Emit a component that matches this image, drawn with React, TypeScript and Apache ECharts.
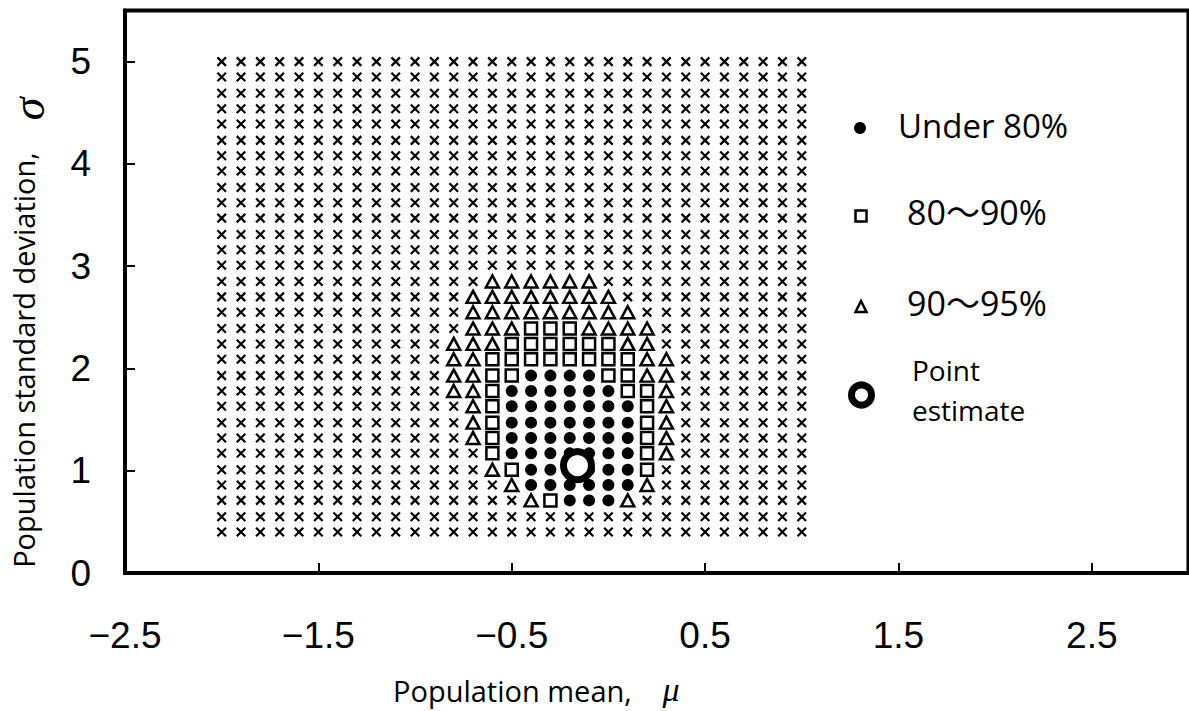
import React, { useEffect, useRef } from "react";
import * as echarts from "echarts";

// Grid of population means (columns) and standard deviations (rows)
const MU = [
  -2.0, -1.9, -1.8, -1.7, -1.6, -1.5, -1.4, -1.3, -1.2, -1.1, -1.0,
  -0.9, -0.8, -0.7, -0.6, -0.5, -0.4, -0.3, -0.2, -0.1, 0.0,
  0.1, 0.2, 0.3, 0.4, 0.5, 0.6, 0.7, 0.8, 0.9, 1.0,
];
const SIGMA = [
  0.4, 0.55, 0.71, 0.86, 1.01, 1.17, 1.32, 1.47, 1.63, 1.78, 1.93,
  2.09, 2.24, 2.39, 2.55, 2.7, 2.85, 3.01, 3.16, 3.31, 3.47, 3.62,
  3.77, 3.93, 4.08, 4.23, 4.39, 4.54, 4.69, 4.85, 5.0,
];

// One string per SIGMA row (bottom to top), one char per MU column.
// x = outside, t = 90~95%, s = 80~90%, o = under 80%
const CLASS_ROWS = [
  "xxxxxxxxxxxx xxxx xxxx xxxx xxxxxxx", // 0.40
  "xxxxxxxxxxxx xxxx xxxx xxxx xxxxxxx", // 0.55
  "xxxxxxxxxxxx xxxx tsoo otxx xxxxxxx", // 0.71
  "xxxxxxxxxxxx xxxt oooo ootx xxxxxxx", // 0.86
  "xxxxxxxxxxxx xxts oooo oosx xxxxxxx", // 1.01
  "xxxxxxxxxxxx xxso oooo oost xxxxxxx", // 1.17
  "xxxxxxxxxxxx xtso oooo oost xxxxxxx", // 1.32
  "xxxxxxxxxxxx xtso oooo oost xxxxxxx", // 1.47
  "xxxxxxxxxxxx xtso oooo oost xxxxxxx", // 1.63
  "xxxxxxxxxxxx ttso oooo osst xxxxxxx", // 1.78
  "xxxxxxxxxxxx ttss oooo sstt xxxxxxx", // 1.93
  "xxxxxxxxxxxx ttss ssss sstt xxxxxxx", // 2.09
  "xxxxxxxxxxxx ttts ssss sttx xxxxxxx", // 2.24
  "xxxxxxxxxxxx xttt ssst tttx xxxxxxx", // 2.39
  "xxxxxxxxxxxx xttt tttt ttxx xxxxxxx", // 2.55
  "xxxxxxxxxxxx xttt tttt txxx xxxxxxx", // 2.70
  "xxxxxxxxxxxx xxtt tttt xxxx xxxxxxx", // 2.85
  "xxxxxxxxxxxx xxxx xxxx xxxx xxxxxxx", // 3.01
  "xxxxxxxxxxxx xxxx xxxx xxxx xxxxxxx", // 3.16
  "xxxxxxxxxxxx xxxx xxxx xxxx xxxxxxx", // 3.31
  "xxxxxxxxxxxx xxxx xxxx xxxx xxxxxxx", // 3.47
  "xxxxxxxxxxxx xxxx xxxx xxxx xxxxxxx", // 3.62
  "xxxxxxxxxxxx xxxx xxxx xxxx xxxxxxx", // 3.77
  "xxxxxxxxxxxx xxxx xxxx xxxx xxxxxxx", // 3.93
  "xxxxxxxxxxxx xxxx xxxx xxxx xxxxxxx", // 4.08
  "xxxxxxxxxxxx xxxx xxxx xxxx xxxxxxx", // 4.23
  "xxxxxxxxxxxx xxxx xxxx xxxx xxxxxxx", // 4.39
  "xxxxxxxxxxxx xxxx xxxx xxxx xxxxxxx", // 4.54
  "xxxxxxxxxxxx xxxx xxxx xxxx xxxxxxx", // 4.69
  "xxxxxxxxxxxx xxxx xxxx xxxx xxxxxxx", // 4.85
  "xxxxxxxxxxxx xxxx xxxx xxxx xxxxxxx", // 5.00
];

const POINT_ESTIMATE = [-0.16, 1.05];

const X_TICKS = [-2.5, -1.5, -0.5, 0.5, 1.5, 2.5];
const Y_TICKS = [0, 1, 2, 3, 4, 5];

const LEGEND_LABELS = ["Under 80%", "80\u301c90%", "90\u301c95%", "Point", "estimate"];
const X_NAME = "Population mean,";
const Y_NAME = "Population standard deviation,";

const TICK_FAMILY = "'Liberation Sans', Arial, sans-serif";
const SANS = "'Open Sans', 'Noto Sans', 'Noto Sans CJK JP', sans-serif";
const SERIF = "'Liberation Serif', 'DejaVu Serif', serif";

const fmtTick = (v: number) => (v < 0 ? "\u2212" + String(Math.abs(v)) : String(v));

export default function App() {
  const ref = useRef<HTMLDivElement>(null);

  useEffect(() => {
    document.body.style.margin = "0";
    const chart = echarts.init(ref.current!, null, { renderer: "svg" });

    const buckets: Record<string, number[][]> = { x: [], t: [], s: [], o: [] };
    CLASS_ROWS.forEach((row, r) => {
      const cells = row.replace(/ /g, "");
      for (let c = 0; c < MU.length; c++) {
        const k = cells[c];
        if (buckets[k]) buckets[k].push([MU[c], SIGMA[r]]);
      }
    });

    const option: any = {
      animation: false,
      backgroundColor: "#fff",
      grid: {
        left: 125,
        right: 0.5,
        top: 10.5,
        height: 562.5,
        show: true,
        borderColor: "#000",
        borderWidth: 4,
        backgroundColor: "transparent",
      },
      xAxis: {
        type: "value",
        min: -2.5,
        max: 3,
        axisLine: { show: true, onZero: false, lineStyle: { color: "#000", width: 4 } },
        axisTick: {
          show: true,
          inside: true,
          length: 10,
          customValues: X_TICKS,
          lineStyle: { color: "#000", width: 2 },
        },
        axisLabel: {
          customValues: X_TICKS,
          formatter: fmtTick,
          color: "#000",
          fontFamily: TICK_FAMILY,
          fontSize: 37,
          margin: 44,
        },
        splitLine: { show: false },
      },
      yAxis: {
        type: "value",
        min: 0,
        max: 5.5,
        axisLine: { show: true, onZero: false, lineStyle: { color: "#000", width: 4 } },
        axisTick: {
          show: true,
          inside: true,
          length: 10,
          customValues: Y_TICKS,
          lineStyle: { color: "#000", width: 2 },
        },
        axisLabel: {
          customValues: Y_TICKS,
          formatter: fmtTick,
          color: "#000",
          fontFamily: TICK_FAMILY,
          fontSize: 37,
          margin: 34,
        },
        splitLine: { show: false },
      },
      series: [
        {
          name: "Outside 95%",
          type: "scatter",
          data: buckets.x,
          symbol: "path://M0,0L10,10M10,0L0,10",
          symbolSize: 8.5,
          itemStyle: { color: "none", borderColor: "#000", borderWidth: 2.2, opacity: 1 },
        },
        {
          name: "90〜95%",
          type: "scatter",
          data: buckets.t,
          symbol: "triangle",
          symbolSize: [13, 12],
          itemStyle: { color: "#fff", borderColor: "#000", borderWidth: 2.5, opacity: 1 },
        },
        {
          name: "80〜90%",
          type: "scatter",
          data: buckets.s,
          symbol: "rect",
          symbolSize: 12,
          itemStyle: { color: "#fff", borderColor: "#000", borderWidth: 2.5, opacity: 1 },
        },
        {
          name: "Under 80%",
          type: "scatter",
          data: buckets.o,
          symbol: "circle",
          symbolSize: 12,
          itemStyle: { color: "#000", opacity: 1 },
        },
        {
          name: "Point estimate",
          type: "scatter",
          data: [POINT_ESTIMATE],
          symbol: "circle",
          symbolSize: 28,
          z: 5,
          itemStyle: { color: "#fff", borderColor: "#000", borderWidth: 7, opacity: 1 },
        },
      ],
      graphic: [
        // legend markers
        { type: "circle", shape: { cx: 860, cy: 128, r: 6 }, style: { fill: "#000" } },
        {
          type: "rect",
          shape: { x: 855.5, y: 210.5, width: 11, height: 11 },
          style: { fill: "#fff", stroke: "#000", lineWidth: 2.5 },
        },
        {
          type: "polygon",
          shape: { points: [[861, 301], [855.5, 312], [866.5, 312]] },
          style: { fill: "#fff", stroke: "#000", lineWidth: 2.5 },
        },
        {
          type: "circle",
          shape: { cx: 861.5, cy: 395, r: 10 },
          style: { fill: "#fff", stroke: "#000", lineWidth: 7 },
        },
        // legend texts
        {
          type: "text",
          x: 898,
          y: 125,
          style: { text: LEGEND_LABELS[0], font: `33px ${SANS}`, fill: "#000", verticalAlign: "middle" },
        },
        {
          type: "text",
          x: 907,
          y: 212,
          style: { text: LEGEND_LABELS[1], font: `34px ${SANS}`, fill: "#000", verticalAlign: "middle" },
        },
        {
          type: "text",
          x: 907,
          y: 303,
          style: { text: LEGEND_LABELS[2], font: `34px ${SANS}`, fill: "#000", verticalAlign: "middle" },
        },
        {
          type: "text",
          x: 912,
          y: 370,
          style: { text: LEGEND_LABELS[3], font: `28px ${SANS}`, fill: "#000", verticalAlign: "middle" },
        },
        {
          type: "text",
          x: 912,
          y: 410,
          style: { text: LEGEND_LABELS[4], font: `28px ${SANS}`, fill: "#000", verticalAlign: "middle" },
        },
        // axis names
        {
          type: "text",
          x: 393,
          y: 690,
          style: { text: X_NAME, font: `29px ${SANS}`, fill: "#000", verticalAlign: "middle" },
        },
        {
          type: "text",
          x: 671,
          y: 689,
          style: {
            text: "\u03bc",
            font: `italic 34px ${SERIF}`,
            fill: "#000",
            align: "center",
            verticalAlign: "middle",
          },
        },
        {
          type: "text",
          x: 23,
          y: 360,
          rotation: Math.PI / 2,
          style: {
            text: Y_NAME,
            font: `29px ${SANS}`,
            fill: "#000",
            align: "center",
            verticalAlign: "middle",
          },
        },
        {
          type: "text",
          x: 28,
          y: 109,
          rotation: Math.PI / 2,
          style: {
            text: "\u03c3",
            font: `italic 46px ${SERIF}`,
            fill: "#000",
            align: "center",
            verticalAlign: "middle",
          },
        },
      ],
    };

    chart.setOption(option);
    return () => chart.dispose();
  }, []);

  return <div ref={ref} style={{ width: 1189, height: 711 }} />;
}
